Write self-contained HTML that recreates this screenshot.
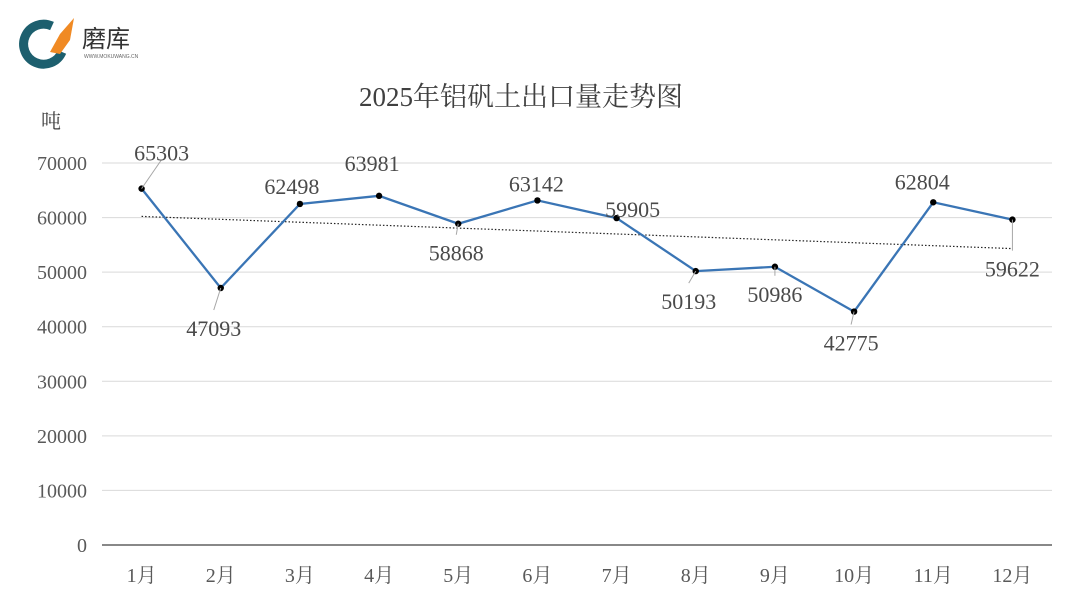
<!DOCTYPE html>
<html><head><meta charset="utf-8"><style>
body{margin:0;width:1080px;height:608px;background:#fff;overflow:hidden}
svg text{font-family:"Liberation Serif","Noto Serif CJK SC",serif}
</style></head><body>
<svg width="1080" height="608">
<g>
<path d="M52 26 A20 20 0 1 0 62 52" fill="none" stroke="#1d5f6e" stroke-width="9"/>
<path d="M50 52 L60 34 L74 18 L70 40 L60 54 Z" fill="#f08a24"/>
<text x="82" y="47" font-size="24" fill="#333" style="font-family:'Liberation Sans','Noto Sans CJK SC',sans-serif">磨库</text>
<text x="84" y="58" font-size="5" fill="#666" style="font-family:'Liberation Sans',sans-serif">WWW.MOKUWANG.CN</text>
</g>
<text x="521" y="106" font-size="27" text-anchor="middle" fill="#404040">2025年铝矾土出口量走势图</text>
<text x="51" y="128" font-size="20" text-anchor="middle" fill="#404040">吨</text>
<g id="grid"></g><g id="trend"></g><g id="series"></g><g id="labels"></g>
</svg>
<script>
const categories=["1月","2月","3月","4月","5月","6月","7月","8月","9月","10月","11月","12月"];
const values=[65303,47093,62498,63981,58868,63142,59905,50193,50986,42775,62804,59622];
const yTicks=[0,10000,20000,30000,40000,50000,60000,70000];
const labelOffsets=[[20,-36,1],[-7,40,1],[-8,-18,0],[-7,-33,0],[-2,29,1],[-1,-17,0],[16,-9,0],[-7,30,1],[0,27,1],[-3,31,1],[-11,-21,0],[0,49,1]];
const NS="http://www.w3.org/2000/svg";
const L=102,R=1052,Y0=545,Ymax=70000,Y70=163;
const bw=(R-L)/categories.length;
const x=i=>L+bw*(i+0.5);
const y=v=>Y0-(v/Ymax)*(Y0-Y70);
function mk(t,a,p){const e=document.createElementNS(NS,t);for(const k in a)e.setAttribute(k,a[k]);p.appendChild(e);return e;}
const grid=document.getElementById('grid');
yTicks.forEach(v=>{
 const ln=mk('line',{x1:L,x2:R,y1:y(v),y2:y(v),stroke:v===0?'#404040':'#d9d9d9','stroke-width':v===0?1.3:1},grid);
 
 
 const t=mk('text',{x:87,y:y(v)+7,'font-size':20,'text-anchor':'end',fill:'#595959'},grid);
 t.textContent=v;
 
 
});
categories.forEach((c,i)=>{
 const t=mk('text',{x:x(i),y:582,'font-size':20,'text-anchor':'middle',fill:'#595959'},grid);
 t.textContent=c;
 
 
});
const n=values.length;let sx=0,sy=0,sxy=0,sxx=0;
values.forEach((v,i)=>{sx+=i;sy+=v;sxy+=i*v;sxx+=i*i;});
const b=(n*sxy-sx*sy)/(n*sxx-sx*sx),a=(sy-b*sx)/n;
const tl=mk('line',{x1:x(0),y1:y(a),x2:x(n-1),y2:y(a+b*(n-1)),stroke:'#222','stroke-width':1.2,'stroke-dasharray':'1.5,2'},document.getElementById('trend'));


const s=document.getElementById('series');
const pl=mk('polyline',{points:values.map((v,i)=>x(i)+','+y(v)).join(' '),fill:'none',stroke:'#3a75b5','stroke-width':2.3},s);


const lg=document.getElementById('labels');
values.forEach((v,i)=>{
 const px=x(i),py=y(v),o=labelOffsets[i];
 const lx=px+o[0],ly=py+o[1];
 if(o[2]){const ll=mk('line',{x1:px,y1:py,x2:lx,y2:ly+(o[1]>0?-18:7),stroke:'#a6a6a6','stroke-width':1},lg);
  
  }
 const c=mk('circle',{cx:px,cy:py,r:3.2,fill:'#000'},s);
 
 
 const t=mk('text',{x:lx,y:ly+8,'font-size':22,'text-anchor':'middle',fill:'#4a4a4a'},lg);
 t.textContent=v;
 
 
});
</script>
</body></html>
